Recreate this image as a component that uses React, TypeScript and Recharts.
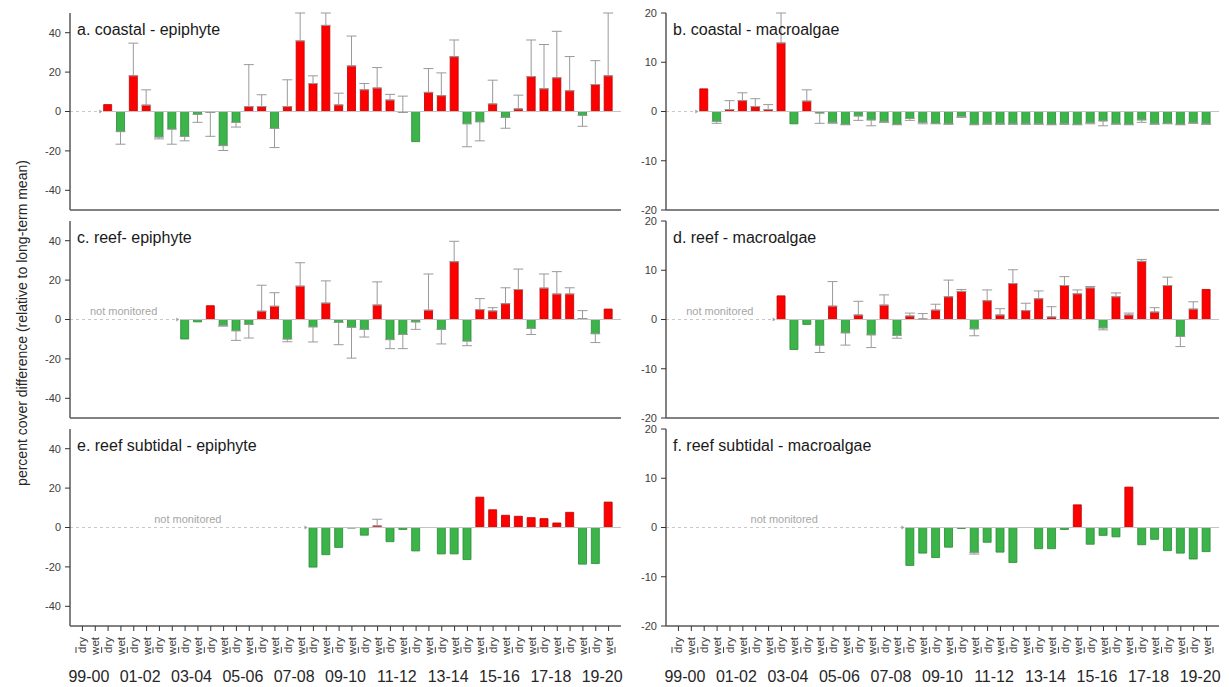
import React from 'react'
import { Bar, BarChart, Cell, ErrorBar, ReferenceLine, XAxis, YAxis } from 'recharts'

const years = [
  '99-00', '00-01', '01-02', '02-03', '03-04', '04-05', '05-06', '06-07', '07-08', '08-09', '09-10',
  '10-11', '11-12', '12-13', '13-14', '14-15', '15-16', '16-17', '17-18', '18-19', '19-20',
]
const seasons = ['dry', 'wet']
const categories = years.flatMap((year) => seasons.map((season) => `${year} ${season}`))

// values per season slot (dry, wet, dry, wet ...), null = not monitored
// errors: signed length of the one-sided error bar (+ up, - down)
const coastalEpiphyte = [
  null, null, 3.5, -10.2, 18.1, 3.2,
  -12.9, -8.9, -12.6, -1.4, -0.5, -17.3,
  -5.5, 2.5, 2.5, -8.5, 2.5, 35.8,
  14.2, 43.7, 3.3, 23.1, 11.0, 11.9,
  5.8, -0.5, -15.3, 9.7, 8.0, 27.8,
  -6.2, -5.2, 3.8, -3.0, 1.3, 17.7,
  11.5, 17.1, 10.5, -1.9, 13.7, 18.1,
]
const coastalEpiphyteErr = [
  null, null, null, -6.4, 16.6, 7.8,
  -1.0, -7.7, -2.3, -4.1, -12.1, -2.5,
  -2.4, 21.3, 6.0, -9.8, 13.6, 14.2,
  3.9, 6.3, 6.0, 15.2, 3.2, 10.4,
  2.9, 8.3, null, 12.1, 11.6, 8.5,
  -11.7, -9.7, 12.1, -5.5, 7.0, 18.6,
  22.5, 23.6, 17.4, -5.6, 12.1, 31.9,
]

const coastalMacroalgae = [
  null, null, 4.6, -2.0, 0.4, 2.2,
  1.0, 0.4, 13.9, -2.5, 2.1, -0.3,
  -2.2, -2.6, -0.9, -1.7, -2.1, -2.6,
  -1.4, -2.2, -2.4, -2.5, -1.0, -2.6,
  -2.5, -2.5, -2.5, -2.5, -2.5, -2.6,
  -2.5, -2.6, -2.3, -1.9, -2.5, -2.6,
  -1.7, -2.5, -2.4, -2.6, -2.3, -2.5,
]
const coastalMacroalgaeErr = [
  null, null, null, -0.4, 1.8, 1.6,
  1.6, 1.0, 6.1, null, 2.3, -2.1,
  -0.2, -0.1, -0.9, -1.2, -0.1, -0.1,
  -0.4, -0.3, -0.1, -0.1, -0.2, -0.1,
  -0.1, -0.1, -0.1, -0.1, -0.1, -0.1,
  -0.1, -0.1, -0.2, -1.0, -0.1, -0.1,
  -0.5, -0.1, -0.1, -0.1, -0.1, -0.1,
]

const reefEpiphyte = [
  null, null, null, null, null, null,
  null, null, -9.9, -1.2, 7.0, -2.9,
  -5.7, -2.5, 4.2, 6.7, -9.9, 16.9,
  -3.7, 8.3, -1.5, -3.9, -5.0, 7.3,
  -10.2, -7.6, -1.2, 4.7, -5.0, 29.3,
  -10.9, 5.0, 4.3, 8.0, 15.2, -4.5,
  15.9, 12.9, 12.9, 0.5, -7.2, 5.3,
]
const reefEpiphyteErr = [
  null, null, null, null, null, null,
  null, null, null, null, null, -0.5,
  -4.9, -6.9, 13.2, 6.9, -1.4, 11.9,
  -7.7, 11.3, -11.3, -15.7, -3.9, 11.8,
  -4.6, -7.2, -3.8, 18.4, -7.4, 10.4,
  -2.4, 5.6, 1.7, 8.1, 10.4, -3.1,
  7.2, 11.4, 3.2, 4.0, -4.5, null,
]

const reefMacroalgae = [
  null, null, null, null, null, null,
  null, null, 4.8, -6.1, -1.0, -5.2,
  2.7, -2.7, 0.9, -3.1, 2.9, -3.2,
  0.7, 0.1, 1.9, 4.6, 5.7, -1.9,
  3.8, 0.9, 7.3, 1.8, 4.2, 0.5,
  6.9, 5.2, 6.4, -1.7, 4.6, 0.9,
  11.8, 1.5, 6.9, -3.4, 2.1, 6.1,
]
const reefMacroalgaeErr = [
  null, null, null, null, null, null,
  null, null, null, null, null, -1.5,
  5.0, -2.5, 2.8, -2.6, 2.1, -0.6,
  0.6, 1.1, 1.2, 3.4, 0.4, -1.4,
  2.2, 1.3, 2.8, 1.5, 1.6, 2.1,
  1.8, 0.8, 0.3, -0.4, 0.8, 0.4,
  0.4, 0.9, 1.7, -2.1, 1.5, null,
]

const subtidalEpiphyte = [
  null, null, null, null, null, null,
  null, null, null, null, null, null,
  null, null, null, null, null, null,
  -20.1, -13.8, -10.1, -0.3, -3.9, 0.8,
  -7.2, -1.0, -11.9, null, -13.4, -13.4,
  -16.3, 15.4, 9.0, 6.2, 5.7, 5.0,
  4.5, 2.3, 7.7, -18.6, -18.3, 12.9,
]
const subtidalEpiphyteErr = [
  null, null, null, null, null, null,
  null, null, null, null, null, null,
  null, null, null, null, null, null,
  null, null, null, null, null, 3.4,
  null, null, null, null, null, null,
  null, null, null, null, null, null,
  null, null, null, null, null, null,
]

const subtidalMacroalgae = [
  null, null, null, null, null, null,
  null, null, null, null, null, null,
  null, null, null, null, null, null,
  -7.7, -5.2, -6.1, -4.0, -0.2, -5.1,
  -3.0, -5.0, -7.1, null, -4.3, -4.3,
  -0.4, 4.6, -3.4, -1.6, -1.9, 8.2,
  -3.5, -2.4, -4.7, -5.2, -6.4, -4.9,
]
const subtidalMacroalgaeErr = [
  null, null, null, null, null, null,
  null, null, null, null, null, null,
  null, null, null, null, null, null,
  null, null, null, null, null, -0.3,
  null, null, null, null, null, null,
  null, null, null, null, null, null,
  null, null, null, null, null, null,
]

const leftTicks = [-40, -20, 0, 20, 40]
const rightTicks = [-20, -10, 0, 10, 20]

const AXIS = '#595959'
const TEXT = '#404040'
const FONT = '"Liberation Sans", Arial, sans-serif'
const BAND = 12.85
const HALF = BAND / 2 + 6
const PLOT_H = 197

type Side = 'left' | 'right'

interface Panel {
  title: string
  values: (number | null)[]
  errors: (number | null)[]
  side: Side
  row: number
  note: string
}

const panels: Panel[] = [
  { title: 'a. coastal - epiphyte', values: coastalEpiphyte, errors: coastalEpiphyteErr, side: 'left', row: 0, note: '' },
  { title: 'b. coastal - macroalgae', values: coastalMacroalgae, errors: coastalMacroalgaeErr, side: 'right', row: 0, note: '' },
  { title: 'c. reef- epiphyte', values: reefEpiphyte, errors: reefEpiphyteErr, side: 'left', row: 1, note: 'not monitored' },
  { title: 'd. reef - macroalgae', values: reefMacroalgae, errors: reefMacroalgaeErr, side: 'right', row: 1, note: 'not monitored' },
  { title: 'e. reef subtidal - epiphyte', values: subtidalEpiphyte, errors: subtidalEpiphyteErr, side: 'left', row: 2, note: 'not monitored' },
  { title: 'f. reef subtidal - macroalgae', values: subtidalMacroalgae, errors: subtidalMacroalgaeErr, side: 'right', row: 2, note: 'not monitored' },
]

const rows = [
  { top: 0, marginTop: 13, axisHeight: 8 },
  { top: 213, marginTop: 8, axisHeight: 8 },
  { top: 420, marginTop: 9, axisHeight: 61 },
]

const sides = {
  left: { left: 0, width: 626, marginLeft: 30, marginRight: 5, domain: [-50, 50], ticks: leftTicks },
  right: { left: 626, width: 600, marginLeft: 0, marginRight: 7, domain: [-20, 20], ticks: rightTicks },
}

function SeasonTick(props: any) {
  const { x, y, payload } = props
  const i = categories.indexOf(payload.value)
  const season = seasons[i % 2]
  return (
    <g>
      <text
        transform={`translate(${x + 4},${y + 4}) rotate(-90)`}
        textAnchor="end"
        fontSize={11.5}
        fill={TEXT}
      >
        {season}
      </text>
      {i % 2 === 0 ? (
        <line x1={x - BAND / 2} x2={x - BAND / 2} y1={y + 14} y2={y + 20} stroke={TEXT} />
      ) : null}
      {i === categories.length - 1 ? (
        <line x1={x + BAND / 2} x2={x + BAND / 2} y1={y + 14} y2={y + 20} stroke={TEXT} />
      ) : null}
      {i % 4 === 0 ? (
        <text x={x + BAND / 2} y={y + 49} textAnchor="middle" fontSize={16} fill="#262626">
          {years[i / 2]}
        </text>
      ) : null}
    </g>
  )
}

function zeroLine(p: any) {
  return <line x1={p.x1 - 5} y1={p.y1} x2={p.x2 + HALF} y2={p.y2} stroke="#c4c4c4" strokeWidth={1} />
}

function notMonitored(note: string) {
  return (p: any) => {
    const x1 = p.x1 - HALF
    const x2 = p.x2 + 5
    return (
      <g>
        <line x1={x1} y1={p.y1} x2={x2} y2={p.y2} stroke="#c8c8c8" strokeDasharray="3 3" />
        <path d={`M${x2 - 1} ${p.y1 - 2} L${x2 + 2} ${p.y1} L${x2 - 1} ${p.y1 + 2} Z`} fill="#a0a0a0" />
        {note ? (
          <text x={(x1 + x2) / 2} y={p.y1 - 5} textAnchor="middle" fontSize={11} fill="#a6a6a6">
            {note}
          </text>
        ) : null}
      </g>
    )
  }
}

function PanelChart({ panel }: { panel: Panel }) {
  const row = rows[panel.row]
  const side = sides[panel.side]
  const bottom = panel.row === 2
  const data = categories.map((cat, i) => {
    const err = panel.errors[i]
    return {
      cat,
      value: panel.values[i],
      error: err == null ? null : err > 0 ? [0, err] : [-err, 0],
    }
  })
  const first = panel.values.findIndex((v) => v != null)
  const height = row.marginTop + PLOT_H + row.axisHeight

  return (
    <div style={{ position: 'absolute', left: side.left, top: row.top, width: side.width, height }}>
      <BarChart
        width={side.width}
        height={height}
        data={data}
        margin={{ top: row.marginTop, right: side.marginRight, bottom: 0, left: side.marginLeft }}
      >
        <XAxis
          dataKey="cat"
          interval={0}
          padding={{ left: 6, right: 6 }}
          height={row.axisHeight}
          tickSize={5}
          tickLine={{ stroke: '#333' }}
          axisLine={{ stroke: AXIS, strokeWidth: 1.5 }}
          tick={bottom ? <SeasonTick /> : false}
        />
        <XAxis
          xAxisId="frame"
          orientation="top"
          dataKey="cat"
          height={0}
          tick={false}
          tickLine={false}
          axisLine={{ stroke: AXIS, strokeWidth: 1.5 }}
        />
        <YAxis
          domain={side.domain}
          ticks={side.ticks}
          allowDataOverflow
          interval={0}
          width={40}
          tickSize={5}
          tickMargin={4}
          tickLine={{ stroke: '#333' }}
          axisLine={{ stroke: AXIS, strokeWidth: 1.5 }}
          tick={{ fontSize: 11, fill: TEXT }}
        />
        <YAxis
          yAxisId="frame"
          orientation="right"
          type="number"
          domain={[0, 1]}
          width={0}
          tick={false}
          tickLine={false}
          axisLine={{ stroke: AXIS, strokeWidth: 1.5 }}
        />
        {first > 0 ? (
          <ReferenceLine
            ifOverflow="visible"
            segment={[
              { x: categories[0], y: 0 },
              { x: categories[first - 1], y: 0 },
            ]}
            shape={notMonitored(panel.note)}
          />
        ) : null}
        <ReferenceLine
          ifOverflow="visible"
          segment={[
            { x: categories[first], y: 0 },
            { x: categories[categories.length - 1], y: 0 },
          ]}
          shape={zeroLine}
        />
        <Bar dataKey="value" barSize={8} isAnimationActive={false}>
          {data.map((d, i) => (
            <Cell
              key={i}
              fill={(d.value ?? 0) >= 0 ? '#ff0000' : '#3cb44a'}
              stroke={(d.value ?? 0) >= 0 ? '#b80000' : '#2a8a38'}
              strokeWidth={0.8}
            />
          ))}
          <ErrorBar dataKey="error" direction="y" width={5} stroke="#9a9a9a" strokeWidth={1} />
        </Bar>
      </BarChart>
      <div
        style={{
          position: 'absolute',
          left: side.left === 0 ? 77 : 47,
          top: row.marginTop + 8,
          fontSize: 16,
          lineHeight: '18px',
          color: '#1a1a1a',
          whiteSpace: 'nowrap',
        }}
      >
        {panel.title}
      </div>
    </div>
  )
}

export default function App() {
  return (
    <div
      style={{
        position: 'absolute',
        left: 0,
        top: 0,
        width: 1229,
        height: 687,
        background: '#fff',
        fontFamily: FONT,
        overflow: 'hidden',
      }}
    >
      {panels.map((panel) => (
        <PanelChart key={panel.title} panel={panel} />
      ))}
      <div
        style={{
          position: 'absolute',
          left: 22,
          top: 323,
          transform: 'translate(-50%, -50%) rotate(-90deg)',
          whiteSpace: 'nowrap',
          fontSize: 14,
          color: '#262626',
        }}
      >
        percent cover difference (relative to long-term mean)
      </div>
    </div>
  )
}
